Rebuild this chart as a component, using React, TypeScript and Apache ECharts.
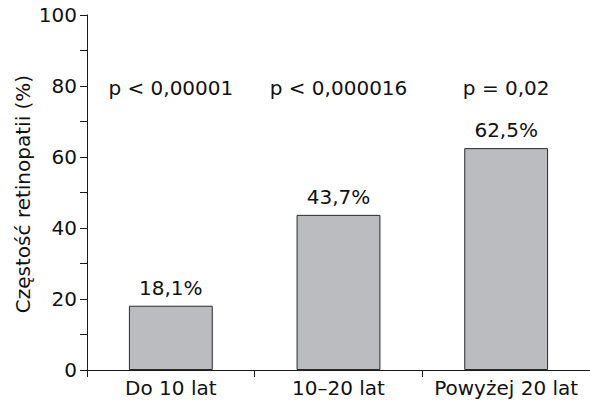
import React, { useEffect, useRef } from "react";
import * as echarts from "echarts";

const categories = ["Do 10 lat", "10–20 lat", "Powyżej 20 lat"];
const values = [18.1, 43.7, 62.5];
const valueLabels = ["18,1%", "43,7%", "62,5%"];
const pTexts = ["p < 0,00001", "p < 0,000016", "p = 0,02"];
const pLevel = [79.5, 79.5, 79.5];
const yTicks = [0, 20, 40, 60, 80, 100];
const yTitle = "Częstość retinopatii (%)";

const FONT = "'DejaVu Sans', sans-serif";
const TXT = "#111";

export default function App() {
  const ref = useRef<HTMLDivElement>(null);
  useEffect(() => {
    if (!ref.current) return;
    const chart = echarts.init(ref.current, undefined, { renderer: "svg" });
    chart.setOption({
      animation: false,
      textStyle: { fontFamily: FONT },
      grid: { left: 87, right: 0, top: 15, bottom: 30, containLabel: false },
      xAxis: {
        type: "category",
        data: categories,
        boundaryGap: true,
        axisLine: { lineStyle: { color: "#1a1a1a", width: 1 } },
        axisTick: { show: true, length: 7, inside: false, lineStyle: { color: "#1a1a1a" } },
        axisLabel: { color: TXT, fontSize: 20, fontFamily: FONT, margin: 8, interval: 0 },
      },
      yAxis: {
        type: "value",
        min: yTicks[0],
        max: yTicks[yTicks.length - 1],
        interval: 20,
        axisLine: { show: true, lineStyle: { color: "#1a1a1a", width: 1 } },
        axisTick: { show: true, length: 7, lineStyle: { color: "#1a1a1a" } },
        minorTick: { show: true, splitNumber: 2, length: 7, lineStyle: { color: "#1a1a1a" } },
        splitLine: { show: false },
        axisLabel: { color: TXT, fontSize: 20, fontFamily: FONT, margin: 10 },
      },
      graphic: [
        {
          type: "text",
          x: 23,
          y: 194,
          rotation: Math.PI / 2,
          style: {
            text: yTitle,
            fill: TXT,
            fontSize: 20,
            fontFamily: FONT,
            align: "center",
            verticalAlign: "middle",
          },
        },
      ],
      series: [
        {
          type: "bar",
          data: values,
          barWidth: "50%",
          itemStyle: { color: "#bbbcc0", borderColor: "#2a2a2a", borderWidth: 1 },
          label: {
            show: true,
            position: "top",
            distance: 8,
            color: TXT,
            fontSize: 20,
            fontFamily: FONT,
            formatter: (p: any) => valueLabels[p.dataIndex],
          },
        },
        {
          type: "scatter",
          data: pLevel,
          symbolSize: 0.01,
          itemStyle: { color: "#111", opacity: 1 },
          silent: true,
          label: {
            show: true,
            position: "inside",
            color: TXT,
            textBorderWidth: 0,
            fontSize: 20,
            fontFamily: FONT,
            formatter: (p: any) => pTexts[p.dataIndex],
          },
        },
      ],
    });
    return () => chart.dispose();
  }, []);
  return (
    <div
      ref={ref}
      style={{ position: "fixed", left: 0, top: 0, width: 590, height: 400, background: "#fff" }}
    />
  );
}
